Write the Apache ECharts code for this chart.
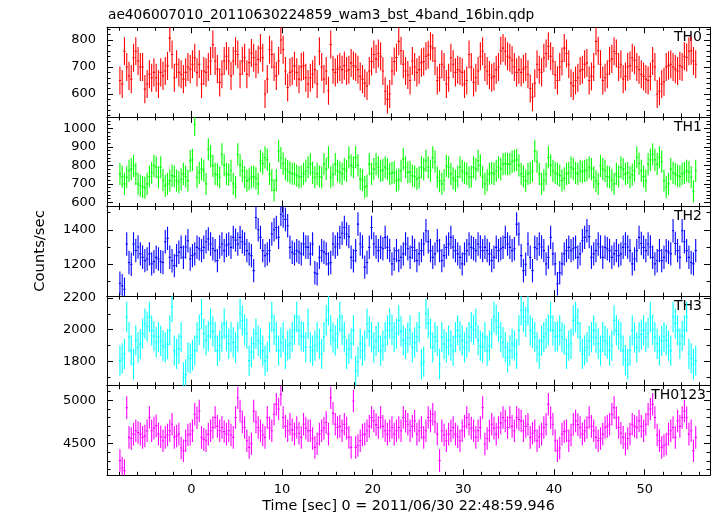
<!DOCTYPE html>
<html><head><meta charset="utf-8">
<script src="https://cdn.jsdelivr.net/npm/echarts@6/dist/echarts.min.js"></script>
<style>html,body{margin:0;padding:0;background:#fff}#c{width:717px;height:516px}</style>
</head><body><div id="c"></div>
<script>
const titleText = 'ae406007010_20110630224859_wam3_bst_4band_16bin.qdp';
const xTitle = 'Time [sec] 0 = 2011/06/30 22:48:59.946';
const yTitle = 'Counts/sec';
const panelNames = ['TH0', 'TH1', 'TH2', 'TH3', 'TH0123'];
const tStart = -8.0;
const binWidth = 0.25;

const th0 = [
650,637,758,700,667,655,734,758,722,700,
700,618,637,673,660,680,660,637,680,667,
685,704,807,746,660,710,680,673,655,680,
700,692,710,734,680,710,637,685,680,700,
722,783,722,692,643,673,722,740,722,667,
722,758,746,673,722,734,673,716,752,734,
710,728,770,734,600,655,764,746,700,667,
722,800,764,685,624,680,685,704,680,655,
700,704,660,637,
660,673,690,637,758,700,655,685,612,783,
690,680,692,700,690,705,685,690,715,705,
700,690,665,655,640,630,685,720,746,730,
750,740,685,610,580,600,685,720,735,795,
760,710,685,670,650,722,700,680,690,716,
720,740,745,777,770,722,650,660,710,700,
637,660,734,710,680,690,685,680,637,650,
746,700,643,660,685,740,758,700,685,670,
660,665,690,700,760,770,758,740,
734,725,700,680,690,680,692,700,673,620,
588,640,710,690,680,734,750,777,740,722,
670,650,700,720,770,750,710,640,630,650,
660,685,690,710,715,650,665,700,795,760,
710,650,660,673,722,730,758,750,700,710,
655,665,700,705,734,725,700,690,673,665,
655,650,665,722,700,600,610,637,645,700,
705,710,700,692,685,704,700,740,735,758,
760,722,710];

const th1 = [
754,740,700,736,771,780,798,754,700,690,
683,680,700,740,760,798,790,736,790,720,
690,700,718,745,740,718,710,725,754,740,
718,825,830,1020,736,760,780,770,700,887,
850,798,754,750,736,860,800,754,750,771,
700,683,860,800,771,736,718,725,736,740,
730,700,825,810,843,830,754,720,665,720,
878,840,810,780,770,762,755,754,745,736,
740,754,770,790,
807,760,736,754,740,736,807,780,843,736,
750,807,770,762,754,780,770,843,800,790,
843,800,727,720,683,690,807,754,780,807,
790,771,775,790,780,754,760,762,718,725,
771,834,790,762,765,745,740,727,735,790,
780,825,790,771,843,820,736,715,700,720,
798,790,754,730,718,740,790,771,760,754,
736,740,790,780,825,800,736,700,720,754,
760,754,770,790,780,807,810,807,
807,820,825,830,800,754,740,718,754,760,
771,878,820,754,700,720,754,843,800,771,
760,754,745,718,730,754,760,790,780,760,
754,771,765,771,775,790,780,736,715,700,
798,780,771,740,736,720,700,754,740,790,
780,754,760,736,750,771,843,810,771,740,
718,807,830,860,830,807,843,820,718,683,
700,780,760,754,745,740,754,760,771,765,
736,660,771];

const th2 = [
1090,1075,1055,1317,1210,1200,1317,1280,1300,1260,
1240,1221,1230,1260,1202,1215,1240,1230,1215,1210,
1330,1350,1240,1220,1192,1250,1270,1298,1240,1300,
1336,1230,1250,1260,1298,1290,1279,1298,1330,1346,
1317,1290,1279,1221,1300,1317,1279,1310,1317,1298,
1356,1340,1317,1356,1330,1317,1279,1260,1250,1163,
1471,1400,1356,1279,1250,1260,1279,1375,1400,1413,
1356,1490,1480,1460,1423,1298,1270,1260,1279,1270,
1260,1317,1300,1298,
1260,1317,1150,1144,1240,1279,1270,1260,1202,1210,
1317,1300,1317,1356,1380,1413,1375,1360,1240,1220,
1279,1433,1317,1300,1183,1210,1298,1413,1317,1300,
1279,1298,1290,1356,1298,1280,1202,1230,1279,1221,
1240,1260,1317,1290,1240,1298,1280,1221,1260,1279,
1317,1394,1330,1279,1240,1260,1336,1279,1221,1250,
1298,1317,1356,1300,1279,1260,1240,1202,1260,1279,
1317,1298,1290,1279,1317,1300,1279,1298,1280,1260,
1221,1240,1298,1279,1290,1298,1356,1317,
1298,1279,1290,1433,1375,1250,1163,1200,1317,1240,
1163,1298,1290,1317,1300,1279,1202,1240,1356,1260,
1202,1087,1150,1202,1260,1279,1298,1279,1290,1298,
1240,1260,1336,1356,1394,1360,1240,1260,1279,1317,
1300,1240,1298,1290,1279,1240,1260,1279,1250,1260,
1298,1317,1300,1279,1202,1230,1279,1356,1320,1298,
1279,1317,1300,1240,1202,1220,1279,1221,1240,1279,
1270,1260,1394,1320,1279,1240,1394,1330,1279,1240,
1210,1202,1279];

const th3 = [
1806,1820,1848,2080,1954,1870,1785,1933,1890,1910,
1975,2038,2020,2080,1996,1960,1922,1954,1930,1900,
1890,1910,1996,2143,1869,1848,1880,1954,1700,1720,
1827,1820,1840,1869,1954,2000,2100,1975,1933,1960,
2038,1990,1954,1869,1900,1954,2038,1960,1912,1954,
1920,1890,1954,2100,2059,2000,1975,1806,1860,1912,
1975,1930,1912,1869,1806,1830,1954,2080,2000,1954,
1869,1920,1954,1848,1900,1912,1954,2000,2080,1996,
1960,1954,1890,2038,
1890,1869,1900,1954,1912,1848,1954,2060,2122,1996,
1950,1933,1975,2080,2000,1954,1848,1880,1912,1996,
1743,1800,1912,1869,1900,2038,1990,1954,1890,1930,
1954,1869,1900,1954,1996,2038,2000,1954,1975,2059,
1990,1933,1912,1950,1996,1890,1920,1954,2017,1785,
1800,2100,2040,1975,1890,1954,1930,1785,1954,1910,
1890,1933,1900,1869,1954,1996,1960,1933,1890,1920,
1954,2017,2000,2038,1933,1900,1890,1954,1869,1900,
1975,2080,2060,2017,1954,1920,1890,1827,
1869,1912,1900,1848,1996,2122,2080,2050,2122,1996,
1980,1954,1890,1848,1930,1954,1975,2000,2080,1996,
1954,1960,1996,1954,1940,1848,1900,1912,2059,2080,
2040,1954,1848,1870,1890,1930,1954,1996,1950,1912,
1869,1954,1930,1912,1869,1900,2059,1996,1970,1954,
1869,1810,1785,1869,1996,1950,1890,1954,1970,1996,
1954,1980,2080,2000,1954,1912,1869,1930,1954,1933,
1900,1869,2080,2040,1996,1912,1960,1996,2080,1848,
1820,1785,1806];

const th0123 = [
4305,4220,4190,4916,4573,4560,4611,4650,4630,4611,
4573,4590,4650,4802,4650,4680,4706,4611,4580,4534,
4573,4600,4650,4725,4573,4590,4611,4450,4420,4534,
4600,4611,4650,4840,4800,4878,4573,4550,4534,4611,
4650,4687,4802,4700,4650,4687,4640,4611,4650,4600,
4573,4802,5030,4878,4750,4687,4534,4458,4500,4878,
4750,4687,4650,4600,4573,4802,4680,4650,4840,4954,
4900,5069,4802,4700,4650,4725,4660,4611,4687,4620,
4573,4725,4680,4650,
4650,4560,4458,4500,4611,4650,4680,4744,4611,5030,
4850,4725,4687,4700,4650,4725,4680,4573,4458,4992,
4458,4480,4534,4600,4611,4650,4700,4802,4763,4720,
4687,4802,4700,4650,4611,4650,4687,4611,4650,4687,
4650,4802,4760,4725,4650,4700,4763,4611,4650,4687,
4573,4650,4802,4763,4840,4750,4611,4305,4650,4600,
4534,4611,4650,4687,4611,4580,4534,4650,4700,4802,
4725,4680,4650,4573,4650,4687,4916,4496,4560,4650,
4725,4680,4611,4687,4740,4802,4763,4687,
4802,4700,4650,4802,4780,4763,4650,4700,4725,4573,
4620,4650,4534,4580,4611,4687,4725,4954,4800,4725,
4534,4420,4450,4611,4640,4650,4534,4600,4725,4763,
4720,4687,4611,4650,4687,4802,4700,4650,4573,4534,
4560,4611,4687,4700,4725,4840,4916,4800,4687,4620,
4573,4496,4560,4611,4725,4700,4687,4763,4700,4650,
4725,4840,4900,4954,4802,4600,4534,4458,4480,4496,
4611,4650,4687,4573,4763,4700,4802,4878,4800,4611,
4650,4420,4573];

// typical 1-sigma error per panel (counts/sec)
const errors = [52, 60, 68, 95, 130];

const xMajorTicks = [0, 10, 20, 30, 40, 50];
const xMinorTicks = [-8,-6,-4,-2,2,4,6,8,12,14,16,18,22,24,26,28,32,34,36,38,42,44,46,48,52,54,56];
const yMajorTicks = [
  [600, 700, 800],
  [600, 700, 800, 900, 1000],
  [1200, 1400],
  [1800, 2000, 2200],
  [4500, 5000]
];
const yMinorTicks = [
  [520,540,560,580,620,640,660,680,720,740,760,780,820,840],
  [620,640,660,680,720,740,760,780,820,840,860,880,920,940,960,980,1020,1040,1060],
  [1100, 1300, 1500],
  [1700, 1900, 2100],
  [4200, 4300, 4400, 4600, 4700, 4800, 4900, 5100]
];

const seriesData = [th0, th1, th2, th3, th0123];
const colors = ['#ff0000', '#00ff00', '#0000ff', '#00ffff', '#ff00ff'];
const yMin = [515, 578, 1015, 1649, 4136];
const yMax = [847, 1062, 1535, 2211, 5169];
const xMin = -9.3, xMax = 57.2;
const labelRight = [702, 702, 702, 702, 706];

const FONT = '"DejaVu Sans", sans-serif';
const gridTop = 27.3, gridH = 89.6, gridLeft = 107, gridRight = 7;

const chart = echarts.init(document.getElementById('c'), null, {renderer: 'canvas'});
const grids = [], xAxes = [], yAxes = [], series = [], graphics = [];
const lineSt = {color: '#000', width: 1};
const plain = (v) => String(v);

for (let k = 0; k < 5; k++) {
  const top = gridTop + k * gridH;
  grids.push({left: gridLeft, right: gridRight, top: top, height: gridH});
  const xb = {type: 'value', gridIndex: k, min: xMin, max: xMax, splitLine: {show: false}, axisPointer: {show: false}};
  const xIdx = xAxes.length;
  xAxes.push(Object.assign({}, xb, {position: 'bottom',
    axisLine: {show: true, onZero: false, lineStyle: lineSt},
    axisTick: {show: true, inside: true, length: 6, customValues: xMajorTicks, lineStyle: lineSt},
    axisLabel: {show: k === 4, customValues: xMajorTicks, formatter: plain, margin: 8, color: '#000', fontSize: 13, fontFamily: FONT}}));
  xAxes.push(Object.assign({}, xb, {position: 'bottom',
    axisLine: {show: false, onZero: false},
    axisTick: {show: true, inside: true, length: 3.5, customValues: xMinorTicks, lineStyle: lineSt},
    axisLabel: {show: false}}));
  xAxes.push(Object.assign({}, xb, {position: 'top',
    axisLine: {show: true, onZero: false, lineStyle: lineSt},
    axisTick: {show: true, inside: true, length: 6, customValues: xMajorTicks, lineStyle: lineSt},
    axisLabel: {show: false}}));
  xAxes.push(Object.assign({}, xb, {position: 'top',
    axisLine: {show: false, onZero: false},
    axisTick: {show: true, inside: true, length: 3.5, customValues: xMinorTicks, lineStyle: lineSt},
    axisLabel: {show: false}}));

  const yb = {type: 'value', gridIndex: k, min: yMin[k], max: yMax[k], splitLine: {show: false}, axisPointer: {show: false}};
  const yIdx = yAxes.length;
  yAxes.push(Object.assign({}, yb, {position: 'left',
    axisLine: {show: true, onZero: false, lineStyle: lineSt},
    axisTick: {show: true, inside: true, length: 6, customValues: yMajorTicks[k], lineStyle: lineSt},
    axisLabel: {show: true, customValues: yMajorTicks[k], formatter: plain, margin: 11, color: '#000', fontSize: 13, fontFamily: FONT}}));
  yAxes.push(Object.assign({}, yb, {position: 'left',
    axisLine: {show: false, onZero: false},
    axisTick: {show: true, inside: true, length: 3.5, customValues: yMinorTicks[k], lineStyle: lineSt},
    axisLabel: {show: false}}));
  yAxes.push(Object.assign({}, yb, {position: 'right',
    axisLine: {show: true, onZero: false, lineStyle: lineSt},
    axisTick: {show: true, inside: true, length: 6, customValues: yMajorTicks[k], lineStyle: lineSt},
    axisLabel: {show: false}}));
  yAxes.push(Object.assign({}, yb, {position: 'right',
    axisLine: {show: false, onZero: false},
    axisTick: {show: true, inside: true, length: 3.5, customValues: yMinorTicks[k], lineStyle: lineSt},
    axisLabel: {show: false}}));

  const col = colors[k];
  const err = errors[k];
  const data = seriesData[k].map((v, i) => [tStart + (i + 0.5) * binWidth, v, err]);
  series.push({
    type: 'custom', name: panelNames[k], xAxisIndex: xIdx, yAxisIndex: yIdx, clip: true, silent: true,
    animation: false, data: data, encode: {x: 0, y: 1},
    renderItem: function (params, api) {
      const t = api.value(0), v = api.value(1), e = api.value(2);
      const c = api.coord([t, v]);
      const l = api.coord([t - binWidth / 2, v]);
      const r = api.coord([t + binWidth / 2, v]);
      const hi = api.coord([t, v + e]);
      const lo = api.coord([t, v - e]);
      return {type: 'group', children: [
        {type: 'line', shape: {x1: l[0], y1: c[1], x2: r[0], y2: c[1]}, style: {stroke: col, lineWidth: 1.1}},
        {type: 'line', shape: {x1: c[0], y1: hi[1], x2: c[0], y2: lo[1]}, style: {stroke: col, lineWidth: 1.1}}
      ]};
    }
  });

  graphics.push({type: 'text', x: labelRight[k], y: top + 10, silent: true,
    style: {text: panelNames[k], fill: '#000', font: '14px ' + FONT, align: 'right', verticalAlign: 'middle'}});
}

graphics.push({type: 'text', x: 108, y: 15, silent: true,
  style: {text: titleText, fill: '#000', font: '13.7px ' + FONT, align: 'left', verticalAlign: 'middle'}});
graphics.push({type: 'text', x: 408.5, y: 506, silent: true,
  style: {text: xTitle, fill: '#000', font: '14.3px ' + FONT, align: 'center', verticalAlign: 'middle'}});
graphics.push({type: 'text', x: 40, y: 251, rotation: Math.PI / 2, silent: true,
  style: {text: yTitle, fill: '#000', font: '14.8px ' + FONT, align: 'center', verticalAlign: 'middle'}});

chart.setOption({
  animation: false,
  backgroundColor: '#fff',
  grid: grids,
  xAxis: xAxes,
  yAxis: yAxes,
  series: series,
  graphic: graphics
});
</script>
</body></html>
